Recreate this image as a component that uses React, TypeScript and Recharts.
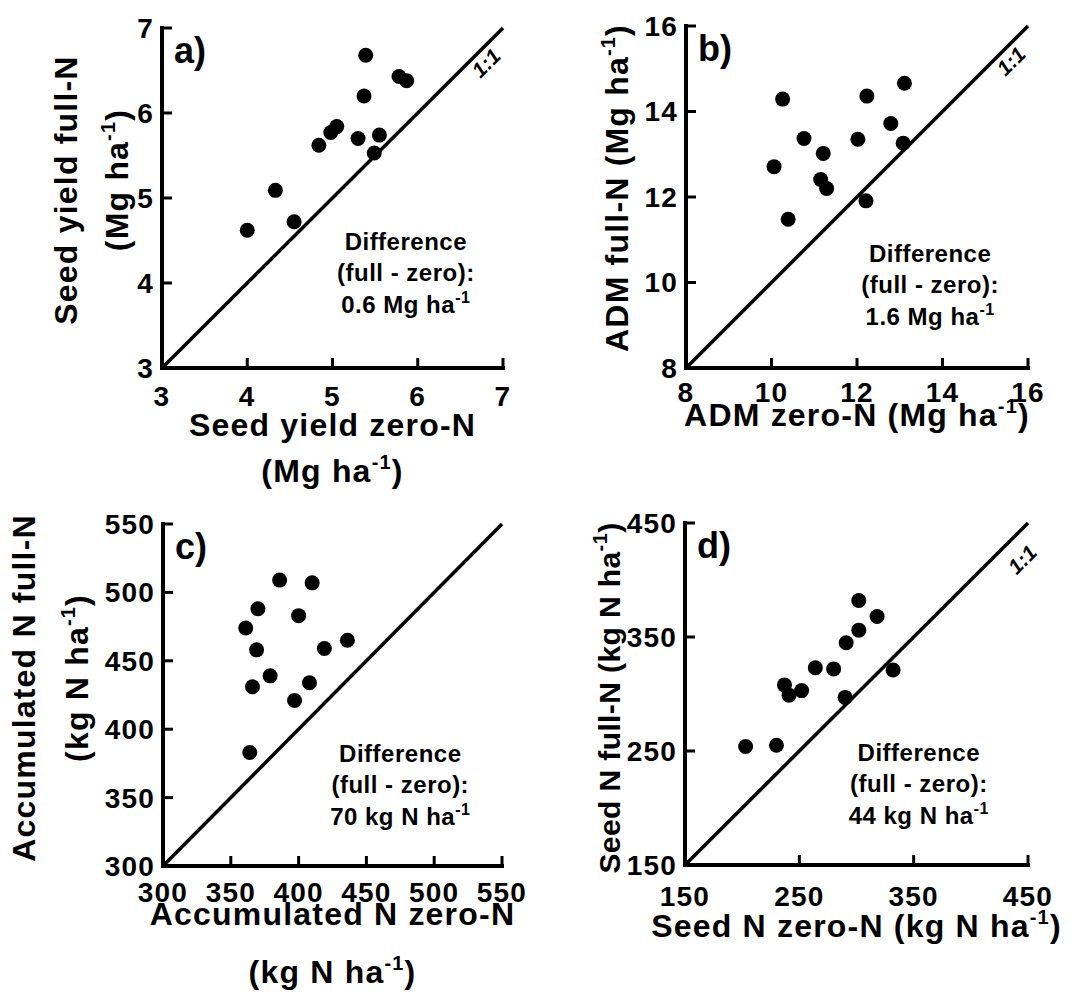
import React from 'react';
import { ScatterChart, Scatter, XAxis, YAxis, ReferenceLine, ReferenceDot } from 'recharts';

// a) seed yield, Mg ha-1
const yieldZero = [4.0, 4.33, 4.55, 4.84, 4.98, 5.05, 5.3, 5.37, 5.39, 5.55, 5.49, 5.78, 5.87];
const yieldFull = [4.62, 5.09, 4.72, 5.62, 5.77, 5.84, 5.7, 6.2, 6.68, 5.74, 5.53, 6.43, 6.38];
const yieldTicks = [3, 4, 5, 6, 7];

// b) above-ground dry matter, Mg ha-1
const admZero = [10.26, 10.06, 10.39, 10.76, 11.21, 11.15, 11.29, 12.02, 12.23, 12.21, 12.79, 13.11, 13.08];
const admFull = [14.29, 12.71, 11.48, 13.37, 13.02, 12.41, 12.2, 13.35, 14.36, 11.91, 13.72, 14.66, 13.26];
const admTicks = [8, 10, 12, 14, 16];

// c) accumulated N, kg N ha-1
const accZero = [386, 410, 370, 400, 361, 436, 369, 419, 379, 408, 366, 397, 364];
const accFull = [509, 507, 488, 483, 474, 465, 458, 459, 439, 434, 431, 421, 383];
const accTicks = [300, 350, 400, 450, 500, 550];

// d) seed N, kg N ha-1
const seedNZero = [302, 318, 302, 291, 264, 280, 332, 237, 241, 252, 290, 203, 230];
const seedNFull = [382, 368, 356, 345, 323, 322, 321, 308, 299, 303, 297, 254, 255];
const seedNTicks = [150, 250, 350, 450];

type Line = [string, string?, string?];

const tickFont = { fill: '#000', fontSize: 28, fontWeight: 700, letterSpacing: 1.2 };
const titleFont = { fill: '#000', fontSize: 32, fontWeight: 700, letterSpacing: 1.2 };
const axisLine = { stroke: '#000', strokeWidth: 4, strokeLinecap: 'square' as const };
const tickLine = { stroke: '#000', strokeWidth: 3 };
const TICK_LEN = 10;

const withSup = (ln: Line, shift: number, size: number) => (
  <>
    {ln[0]}
    {ln[1] && <tspan dy={-shift} fontSize={size}>{ln[1]}</tspan>}
    {ln[2] && <tspan dy={shift}>{ln[2]}</tspan>}
  </>
);

const Dot = (p: any) => <circle cx={p.cx} cy={p.cy} r={7.5} fill="#000" />;

type PanelDef = {
  letter: string;
  xs: number[];
  ys: number[];
  ticks: number[];
  left: number;
  top: number;
  width: number;
  height: number;
  margin: { top: number; right: number; left: number; bottom: number };
  yAxisWidth: number;
  xAxisHeight: number;
  xGap: number;
  xTitle: Line[];
  xTitleDy: number[];
  yTitle: Line[];
  yTitleX: number[];
  yTitleDy: number[];
  yTitleSize?: number;
  note: string;
  noteAt: [number, number];
  oneAt?: [number, number];
};

function Panel(p: PanelDef) {
  const data = p.xs.map((x, i) => ({ x, y: p.ys[i] }));
  const lo = p.ticks[0];
  const hi = p.ticks[p.ticks.length - 1];

  const xLabel = (l: any) => {
    const vb = l.viewBox;
    const cx = vb.x + vb.width / 2;
    return (
      <g>
        {p.xTitle.map((ln, i) => (
          <text key={i} x={cx} y={vb.y + p.xTitleDy[i]} textAnchor="middle" {...titleFont}>
            {withSup(ln, 13, 20)}
          </text>
        ))}
      </g>
    );
  };

  const yLabel = (l: any) => {
    const vb = l.viewBox;
    const size = p.yTitleSize ?? titleFont.fontSize;
    const ax = vb.x + vb.width;
    return (
      <g>
        {p.yTitle.map((ln, i) => {
          const tx = vb.x + p.yTitleX[i];
          const ty = vb.y + p.yTitleDy[i];
          return (
            <text
              key={i}
              x={tx}
              y={ty}
              transform={`rotate(-90 ${tx} ${ty})`}
              textAnchor="middle"
              {...titleFont}
              fontSize={size}
              letterSpacing={p.yTitleSize ? 0.4 : titleFont.letterSpacing}
            >
              {withSup(ln, 13, 20)}
            </text>
          );
        })}
        <text x={ax + 12} y={vb.y + 35} fontSize={36} fontWeight={700} fill="#000">
          {p.letter}
        </text>
      </g>
    );
  };

  const noteShape = (s: any) => (
    <text x={s.cx} y={s.cy} textAnchor="middle" fontSize={24} fontWeight={700} letterSpacing={0.5} fill="#000">
      <tspan x={s.cx} dy={0}>Difference</tspan>
      <tspan x={s.cx} dy={31}>(full - zero):</tspan>
      <tspan x={s.cx} dy={32}>{p.note} ha</tspan>
      <tspan dy={-10} fontSize={16}>-1</tspan>
    </text>
  );

  const oneShape = (s: any) => (
    <text
      x={s.cx}
      y={s.cy}
      transform={`rotate(-45 ${s.cx} ${s.cy})`}
      textAnchor="middle"
      dominantBaseline="central"
      fontSize={21}
      fontWeight={700}
      fontStyle="italic"
      fill="#000"
    >
      1:1
    </text>
  );

  return (
    <div style={{ position: 'absolute', left: p.left, top: p.top }}>
      <ScatterChart width={p.width} height={p.height} margin={p.margin}>
        {/* negative tickSize: tick marks point into the plot */}
        <XAxis
          type="number"
          dataKey="x"
          domain={[lo, hi]}
          ticks={p.ticks}
          interval={0}
          height={p.xAxisHeight}
          stroke="#000"
          axisLine={axisLine}
          tickLine={tickLine}
          tickSize={-TICK_LEN}
          tickMargin={p.xGap + TICK_LEN}
          tick={tickFont}
          label={{ content: xLabel }}
        />
        <YAxis
          type="number"
          dataKey="y"
          domain={[lo, hi]}
          ticks={p.ticks}
          interval={0}
          width={p.yAxisWidth}
          stroke="#000"
          axisLine={axisLine}
          tickLine={tickLine}
          tickSize={-TICK_LEN}
          tickMargin={TICK_LEN + 8}
          tick={tickFont}
          label={{ content: yLabel }}
        />
        <ReferenceLine segment={[{ x: lo, y: lo }, { x: hi, y: hi }]} stroke="#000" strokeWidth={3.5} />
        <Scatter data={data} fill="#000" shape={Dot} isAnimationActive={false} />
        <ReferenceDot x={p.noteAt[0]} y={p.noteAt[1]} r={0} shape={noteShape} />
        {p.oneAt && <ReferenceDot x={p.oneAt[0]} y={p.oneAt[1]} r={0} shape={oneShape} />}
      </ScatterChart>
    </div>
  );
}

const panels: PanelDef[] = [
  {
    letter: 'a)',
    xs: yieldZero,
    ys: yieldFull,
    ticks: yieldTicks,
    left: 0,
    top: 0,
    width: 530,
    height: 490,
    margin: { top: 28, right: 27, left: 0, bottom: 0 },
    yAxisWidth: 162,
    xAxisHeight: 122,
    xGap: 18,
    xTitle: [['Seed yield zero-N'], ['(Mg ha', '-1', ')']],
    xTitleDy: [68, 114],
    yTitle: [['Seed yield full-N'], ['(Mg ha', '-1', ')']],
    yTitleX: [77, 128],
    yTitleDy: [162, 152],
    note: '0.6 Mg',
    noteAt: [5.86, 4.39],
    oneAt: [6.8, 6.59],
  },
  {
    letter: 'b)',
    xs: admZero,
    ys: admFull,
    ticks: admTicks,
    left: 524,
    top: 0,
    width: 546,
    height: 490,
    margin: { top: 26, right: 42, left: 0, bottom: 0 },
    yAxisWidth: 162,
    xAxisHeight: 122,
    xGap: 14,
    xTitle: [['ADM zero-N (Mg ha', '-1', ')']],
    xTitleDy: [58],
    yTitle: [['ADM full-N (Mg ha', '-1', ')']],
    yTitleX: [104],
    yTitleDy: [162],
    note: '1.6 Mg',
    noteAt: [13.71, 10.48],
    oneAt: [15.6, 15.18],
  },
  {
    letter: 'c)',
    xs: accZero,
    ys: accFull,
    ticks: accTicks,
    left: 0,
    top: 490,
    width: 530,
    height: 504,
    margin: { top: 34, right: 28, left: 0, bottom: 0 },
    yAxisWidth: 163,
    xAxisHeight: 128,
    xGap: 16,
    xTitle: [['Accumulated N zero-N'], ['(kg N ha', '-1', ')']],
    xTitleDy: [59, 117],
    yTitle: [['Accumulated N full-N'], ['(kg N ha', '-1', ')']],
    yTitleX: [35, 88],
    yTitleDy: [164, 154],
    note: '70 kg N',
    noteAt: [475, 376],
  },
  {
    letter: 'd)',
    xs: seedNZero,
    ys: seedNFull,
    ticks: seedNTicks,
    left: 524,
    top: 490,
    width: 546,
    height: 504,
    margin: { top: 33, right: 42, left: 0, bottom: 0 },
    yAxisWidth: 161,
    xAxisHeight: 129,
    xGap: 21,
    xTitle: [['Seed N zero-N (kg N ha', '-1', ')']],
    xTitleDy: [72],
    yTitle: [['Seed N full-N (kg N ha', '-1', ')']],
    yTitleX: [96],
    yTitleDy: [175],
    yTitleSize: 30,
    note: '44 kg N',
    noteAt: [354.5, 241],
    oneAt: [445, 418],
  },
];

export default function App() {
  return (
    <div
      style={{
        position: 'absolute',
        left: 0,
        top: 0,
        width: 1070,
        height: 994,
        background: '#fff',
        fontFamily: '"Liberation Sans", Arial, sans-serif',
      }}
    >
      {panels.map((p) => (
        <Panel key={p.letter} {...p} />
      ))}
    </div>
  );
}
